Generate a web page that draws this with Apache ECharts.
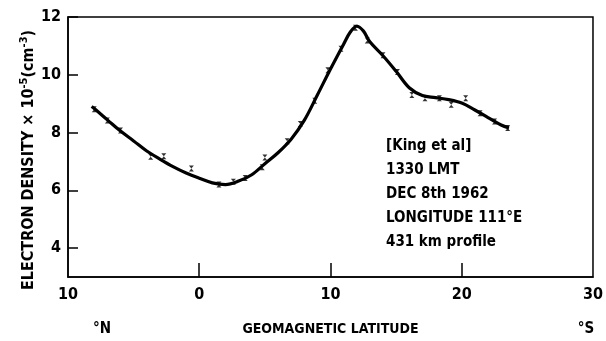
<!DOCTYPE html>
<html>
<head>
<meta charset="utf-8">
<script src="https://cdn.jsdelivr.net/npm/echarts@6/dist/echarts.min.js"></script>
<style>
html,body{margin:0;padding:0;background:#fff;}
#c{width:606px;height:341px;}
</style>
</head>
<body>
<div id="c"></div>
<script>
// Fitted profile
const curveX = [-8.2, -8, -7, -6, -5, -4, -3, -2, -1, 0, 1, 2, 3, 4, 5, 6, 7, 8, 9, 10, 11, 11.5, 12, 12.5, 13, 14, 15, 16, 17, 18, 19, 20, 21, 22, 23, 23.6];
const curveY = [8.90, 8.83, 8.44, 8.05, 7.71, 7.36, 7.08, 6.82, 6.60, 6.42, 6.26, 6.20, 6.32, 6.54, 6.92, 7.30, 7.77, 8.42, 9.30, 10.20, 11.06, 11.47, 11.68, 11.52, 11.14, 10.66, 10.12, 9.55, 9.28, 9.21, 9.14, 9.02, 8.78, 8.52, 8.26, 8.16];
// Measured points
const obsX = [-8.0, -7.0, -6.0, -3.7, -2.7, -0.6, 1.5, 2.6, 3.5, 4.8, 5.0, 6.7, 7.7, 8.8, 9.8, 10.8, 11.9, 12.8, 14.0, 15.1, 16.2, 17.2, 18.3, 19.2, 20.3, 21.4, 22.5, 23.5];
const obsY = [8.81, 8.42, 8.07, 7.16, 7.18, 6.76, 6.20, 6.30, 6.43, 6.80, 7.14, 7.70, 8.30, 9.10, 10.16, 10.90, 11.63, 11.19, 10.68, 10.10, 9.30, 9.19, 9.19, 8.96, 9.19, 8.67, 8.38, 8.16];
// Axes
const yTickValues = [4, 6, 8, 10, 12];
const xTickValues = [-10, 0, 10, 20, 30];
const xTickLabels = ['10', '0', '10', '20', '30'];
const xInnerTicks = [0, 10, 20];
const infoLines = ['[King et al]', '1330 LMT', 'DEC 8th 1962', 'LONGITUDE 111\u00B0E', '431 km profile'];

const F = '"Liberation Sans Narrow", "DejaVu Sans Condensed", sans-serif';
const FC = '"DejaVu Sans Condensed", "Liberation Sans Narrow", sans-serif';

const chart = echarts.init(document.getElementById('c'), null, {renderer: 'canvas'});
const curveData = curveX.map((x, i) => [x, curveY[i]]);
const obsData = obsX.map((x, i) => [x, obsY[i]]);

const option = {
  backgroundColor: '#fff',
  animation: false,
  grid: {left: 68, right: 8, top: 17, bottom: 64, show: true, borderColor: '#000', borderWidth: 1.5, backgroundColor: 'transparent'},
  xAxis: {
    type: 'value', min: -10, max: 30,
    splitLine: {show: false},
    axisLine: {show: true, onZero: false, lineStyle: {color: '#000', width: 1.5}},
    axisTick: {show: true, inside: true, length: 14, customValues: xInnerTicks, lineStyle: {color: '#000', width: 1.5}},
    axisLabel: {
      customValues: xTickValues, margin: 10, color: '#000',
      fontFamily: F, fontWeight: 'bold', fontSize: 16,
      formatter: v => xTickLabels[xTickValues.indexOf(v)]
    },
    name: 'GEOMAGNETIC LATITUDE', nameLocation: 'middle', nameGap: 45,
    nameTextStyle: {color: '#000', fontFamily: F, fontWeight: 'bold', fontSize: 14}
  },
  yAxis: {
    type: 'value', min: 3, max: 12,
    splitLine: {show: false},
    axisLine: {show: true, onZero: false, lineStyle: {color: '#000', width: 1.5}},
    axisTick: {show: true, inside: true, length: 10, customValues: yTickValues, lineStyle: {color: '#000', width: 1.5}},
    axisLabel: {customValues: yTickValues, margin: 7, color: '#000', fontFamily: F, fontWeight: 'bold', fontSize: 16}
  },
  graphic: [
    {
      type: 'text', x: 29, y: 160, rotation: Math.PI / 2,
      style: {
        text: 'ELECTRON DENSITY \u00D7 10{s|-5}(cm{s|-3})',
        fill: '#000', font: 'bold 16px ' + FC,
        align: 'center', verticalAlign: 'middle',
        rich: {s: {fontSize: 11, fontWeight: 'bold', fontFamily: FC, fill: '#000', padding: [0, 0, 10, 0]}}
      }
    },
    {type: 'text', x: 102, y: 329, style: {text: '\u00B0N', fill: '#000', font: 'bold 15px ' + F, align: 'center', verticalAlign: 'middle'}},
    {type: 'text', x: 586, y: 329, style: {text: '\u00B0S', fill: '#000', font: 'bold 15px ' + F, align: 'center', verticalAlign: 'middle'}}
  ].concat(infoLines.map((t, i) => ({
    type: 'text', x: 386, y: 146 + i * 24,
    style: {text: t, fill: '#000', font: 'bold 15px ' + F, align: 'left', verticalAlign: 'middle'}
  }))),
  series: [
    {
      type: 'line', data: curveData, smooth: 0.35, showSymbol: false,
      lineStyle: {color: '#000', width: 3.2}, z: 2
    },
    {
      type: 'scatter', data: obsData,
      symbol: 'path://M0,0L6,0L3,3.5L6,7L0,7L3,3.5Z', symbolSize: [5, 6],
      itemStyle: {color: '#000'}, z: 3
    }
  ]
};
chart.setOption(option);
</script>
</body>
</html>
